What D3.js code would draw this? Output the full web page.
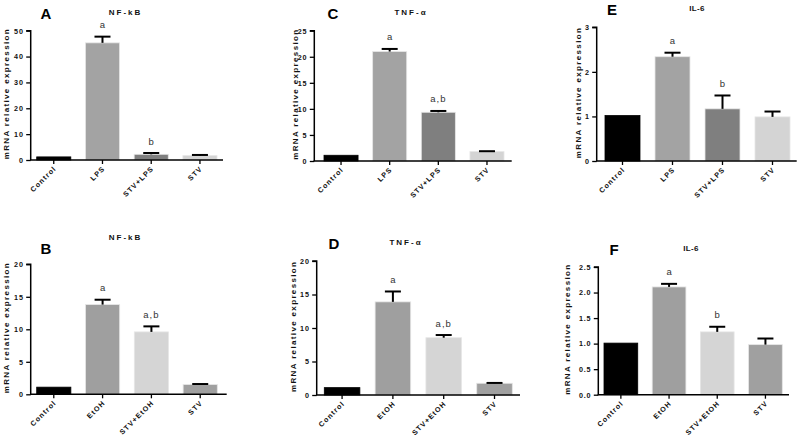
<!DOCTYPE html>
<html>
<head>
<meta charset="utf-8">
<script src="https://cdn.jsdelivr.net/npm/d3@7"></script>
<style>
  html, body { margin: 0; padding: 0; background: #fff; }
  svg { display: block; }
  text { font-family: "Liberation Sans", Arial, sans-serif; }
</style>
</head>
<body>
<svg id="chart" width="800" height="444"></svg>
<script>
// ---------- data ----------
const catsLPS  = ["Control", "LPS", "STV+LPS", "STV"];
const catsEtOH = ["Control", "EtOH", "STV+EtOH", "STV"];

const nfkbLPSVals  = [1.2, 45.3, 2.2, 1.7];
const nfkbLPSErr   = [0, 2.4, 0.5, 0.25];
const nfkbLPSSig   = ["", "a", "b", ""];

const tnfLPSVals   = [1.1, 21.0, 9.35, 1.8];
const tnfLPSErr    = [0, 0.5, 0.25, 0.08];
const tnfLPSSig    = ["", "a", "a,b", ""];

const il6LPSVals   = [1.02, 2.34, 1.17, 0.99];
const il6LPSErr    = [0, 0.09, 0.30, 0.12];
const il6LPSSig    = ["", "a", "b", ""];

const nfkbEtOHVals = [1.1, 13.8, 9.6, 1.5];
const nfkbEtOHErr  = [0, 0.75, 0.85, 0.08];
const nfkbEtOHSig  = ["", "a", "a,b", ""];

const tnfEtOHVals  = [1.1, 13.9, 8.55, 1.75];
const tnfEtOHErr   = [0, 1.55, 0.4, 0.05];
const tnfEtOHSig   = ["", "a", "a,b", ""];

const il6EtOHVals  = [1.01, 2.11, 1.23, 0.98];
const il6EtOHErr   = [0, 0.06, 0.10, 0.12];
const il6EtOHSig   = ["", "a", "b", ""];

const ticksNFkBLPS  = [0, 10, 20, 30, 40, 50];
const ticksTNFLPS   = [0, 5, 10, 15, 20, 25];
const ticksIL6LPS   = [0, 1, 2, 3];
const ticksNFkBEtOH = [0, 5, 10, 15, 20];
const ticksTNFEtOH  = [0, 5, 10, 15, 20];
const ticksIL6EtOH  = [0, 0.5, 1.0, 1.5, 2.0, 2.5];

const colorsLPS  = ["#000000", "#a3a3a3", "#7f7f7f", "#d4d4d4"];
const colorsEtOH = ["#000000", "#9f9f9f", "#d5d5d5", "#a0a0a0"];

const yTitle = "mRNA relative expression";

// ---------- layout ----------
const panels = [
  { letter: "A", title: "NF-kB", cats: catsLPS, vals: nfkbLPSVals, err: nfkbLPSErr, sig: nfkbLPSSig, ticks: ticksNFkBLPS, fmt: d3.format("d"), colors: colorsLPS,
    ax0: 30.7, ax1: 223, b0: 36.7, b1: 217, y0: 160, yTop: 30.7, ytX: 5.5, letterX: 46, letterY: 19, titleX: 125.5, titleY: 15 },
  { letter: "C", title: "TNF-\u03B1", cats: catsLPS, vals: tnfLPSVals, err: tnfLPSErr, sig: tnfLPSSig, ticks: ticksTNFLPS, fmt: d3.format("d"), colors: colorsLPS,
    ax0: 314.3, ax1: 511.7, b0: 324, b1: 504, y0: 161, yTop: 30.7, ytX: 295, letterX: 333, letterY: 19, titleX: 411, titleY: 15 },
  { letter: "E", title: "IL-6", cats: catsLPS, vals: il6LPSVals, err: il6LPSErr, sig: il6LPSSig, ticks: ticksIL6LPS, fmt: d3.format("d"), colors: colorsLPS,
    ax0: 596.7, ax1: 796.7, b0: 605, b1: 790, y0: 161, yTop: 27.3, ytX: 578, letterX: 612, letterY: 15, titleX: 697, titleY: 11 },
  { letter: "B", title: "NF-kB", cats: catsEtOH, vals: nfkbEtOHVals, err: nfkbEtOHErr, sig: nfkbEtOHSig, ticks: ticksNFkBEtOH, fmt: d3.format("d"), colors: colorsEtOH,
    ax0: 30.7, ax1: 226.7, b0: 36.7, b1: 217.3, y0: 394.3, yTop: 264.3, ytX: 5.5, letterX: 46, letterY: 254, titleX: 125.5, titleY: 240 },
  { letter: "D", title: "TNF-\u03B1", cats: catsEtOH, vals: tnfEtOHVals, err: tnfEtOHErr, sig: tnfEtOHSig, ticks: ticksTNFEtOH, fmt: d3.format("d"), colors: colorsEtOH,
    ax0: 316.7, ax1: 520, b0: 324.3, b1: 512.3, y0: 395, yTop: 261, ytX: 293, letterX: 334, letterY: 248.5, titleX: 406, titleY: 245 },
  { letter: "F", title: "IL-6", cats: catsEtOH, vals: il6EtOHVals, err: il6EtOHErr, sig: il6EtOHSig, ticks: ticksIL6EtOH, fmt: d3.format(".1f"), colors: colorsEtOH,
    ax0: 598.3, ax1: 789, b0: 604, b1: 782.3, y0: 394.7, yTop: 267, ytX: 566.7, letterX: 614, letterY: 255, titleX: 691, titleY: 251 }
];

const svg = d3.select("#chart");

panels.forEach(p => {
  const g = svg.append("g");
  const yMax = p.ticks[p.ticks.length - 1];
  const y = d3.scaleLinear().domain([0, yMax]).range([p.y0, p.yTop]);
  const x = d3.scaleBand().domain(p.cats).range([p.b0, p.b1]).paddingInner(0.3).paddingOuter(0);

  // bars
  g.selectAll("rect.bar").data(p.cats).enter().append("rect")
    .attr("class", "bar")
    .attr("x", d => x(d))
    .attr("width", x.bandwidth())
    .attr("y", (d, i) => y(p.vals[i]))
    .attr("height", (d, i) => p.y0 - y(p.vals[i]))
    .attr("fill", (d, i) => p.colors[i])
    .attr("stroke", (d, i) => i === 0 ? "#000" : "#e6e6e6")
    .attr("stroke-width", 0.8);

  // error bars (upper only)
  const capW = 16;
  p.cats.forEach((c, i) => {
    if (!p.err[i]) return;
    const cx = x(c) + x.bandwidth() / 2;
    const yT = y(p.vals[i] + p.err[i]);
    g.append("line").attr("x1", cx).attr("x2", cx)
      .attr("y1", y(p.vals[i])).attr("y2", yT)
      .attr("stroke", "#000").attr("stroke-width", 2);
    g.append("line").attr("x1", cx - capW / 2).attr("x2", cx + capW / 2)
      .attr("y1", yT).attr("y2", yT)
      .attr("stroke", "#000").attr("stroke-width", 2);
  });

  // significance letters
  p.cats.forEach((c, i) => {
    if (!p.sig[i]) return;
    const cx = x(c) + x.bandwidth() / 2;
    g.append("text")
      .attr("x", cx)
      .attr("y", y(p.vals[i] + p.err[i]) - 8.5)
      .attr("text-anchor", "middle")
      .attr("font-size", 9.5)
      .attr("fill", "#333")
      .attr("letter-spacing", p.sig[i].length > 1 ? 1 : 0)
      .text(p.sig[i]);
  });

  // y axis
  const yAxis = d3.axisLeft(y).tickValues(p.ticks).tickFormat(p.fmt).tickSize(4.5).tickPadding(2.5);
  const ya = g.append("g").attr("transform", `translate(${p.ax0},0)`).call(yAxis);
  ya.select(".domain").attr("stroke", "#000").attr("stroke-width", 1.5)
    .attr("d", `M-4.5,${p.yTop}H0V${p.y0}`);
  ya.selectAll(".tick line").attr("stroke", "#000").attr("stroke-width", 1.3);
  ya.selectAll(".tick text")
    .attr("font-family", "'Liberation Sans', Arial, sans-serif")
    .attr("font-size", 7.2).attr("font-weight", "bold").attr("fill", "#111")
    .attr("letter-spacing", 0.8);

  // x axis line
  g.append("line").attr("x1", p.ax0 - 0.7).attr("x2", p.ax1)
    .attr("y1", p.y0).attr("y2", p.y0)
    .attr("stroke", "#000").attr("stroke-width", 1.5);
  const xAxis = d3.axisBottom(x).tickSize(4).tickFormat("");
  const xa = g.append("g").attr("transform", `translate(0,${p.y0})`).call(xAxis);
  xa.select(".domain").remove();
  xa.selectAll(".tick line").attr("stroke", "#000").attr("stroke-width", 1.3);

  // x labels rotated
  p.cats.forEach(c => {
    const cx = x(c) + x.bandwidth() / 2 + 3;
    const cy = p.y0 + 9;
    g.append("text")
      .attr("transform", `translate(${cx},${cy}) rotate(-45)`)
      .attr("text-anchor", "end")
      .attr("font-size", 7.2).attr("font-weight", "bold").attr("fill", "#111")
      .attr("letter-spacing", 1.1)
      .text(c);
  });

  // y title
  const yMid = (p.yTop + p.y0) / 2 - 1;
  g.append("text")
    .attr("transform", `translate(${p.ytX + 3},${yMid}) rotate(-90)`)
    .attr("text-anchor", "middle")
    .attr("font-size", 8).attr("font-weight", "bold").attr("fill", "#111")
    .attr("textLength", 130).attr("lengthAdjust", "spacing")
    .text(yTitle);

  // panel letter
  g.append("text")
    .attr("x", p.letterX).attr("y", p.letterY)
    .attr("text-anchor", "middle")
    .attr("font-size", 15).attr("font-weight", "bold").attr("fill", "#000")
    .text(p.letter);

  // title
  g.append("text")
    .attr("x", p.titleX).attr("y", p.titleY)
    .attr("text-anchor", "middle")
    .attr("font-size", 8).attr("font-weight", "bold").attr("fill", "#111")
    .attr("letter-spacing", p.title.startsWith("IL") ? 0.3 : 2)
    .text(p.title);
});
</script>
</body>
</html>
